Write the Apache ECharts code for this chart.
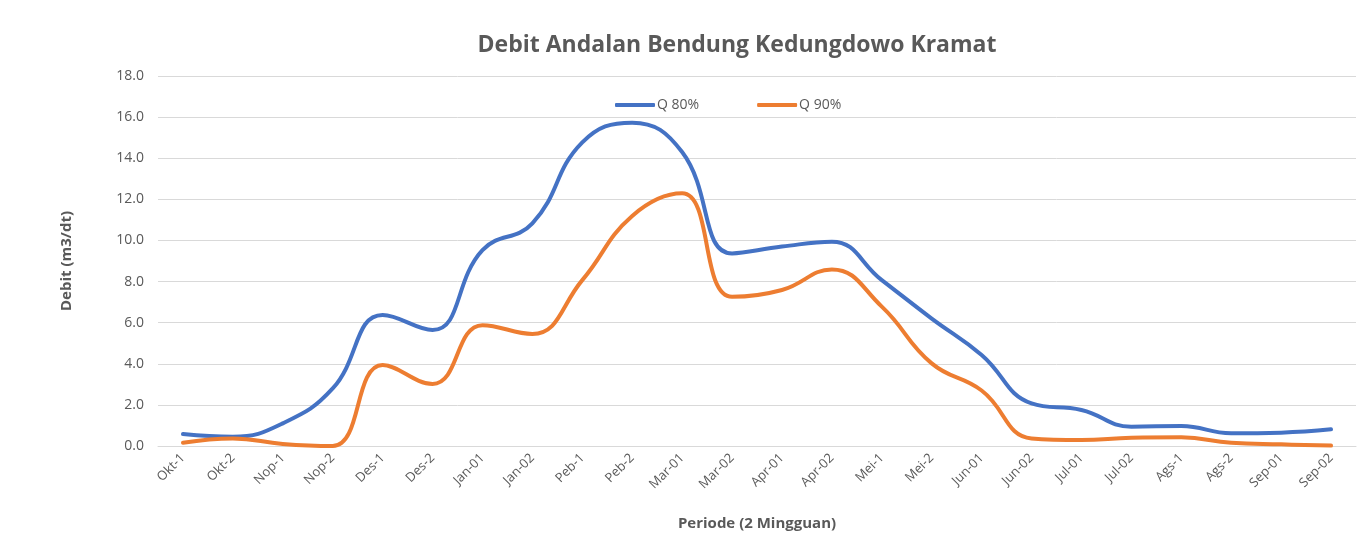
<!DOCTYPE html>
<html>
<head>
<meta charset="utf-8">
<script src="https://cdn.jsdelivr.net/npm/echarts@6/dist/echarts.min.js"></script>
<style>
  html, body { margin: 0; padding: 0; background: #fff; }
  #chart { width: 1357px; height: 548px; }
</style>
</head>
<body>
<div id="chart"></div>
<script>
// periode dua mingguan
const periods = ["Okt-1", "Okt-2", "Nop-1", "Nop-2", "Des-1", "Des-2", "Jan-01", "Jan-02",
  "Peb-1", "Peb-2", "Mar-01", "Mar-02", "Apr-01", "Apr-02", "Mei-1", "Mei-2",
  "Jun-01", "Jun-02", "Jul-01", "Jul-02", "Ags-1", "Ags-2", "Sep-01", "Sep-02"];

const q80 = [0.58, 0.45, 1.1, 2.8, 6.37, 5.64, 9.53, 10.83, 14.77, 15.73, 14.3, 9.37,
  9.7, 9.94, 8.07, 6.2, 4.43, 2.07, 1.75, 0.94, 0.97, 0.62, 0.65, 0.81];
const q90 = [0.16, 0.37, 0.1, 0.0, 3.94, 3.02, 5.88, 5.45, 8.07, 11.19, 12.29, 7.26,
  7.59, 8.59, 6.78, 4.02, 2.7, 0.37, 0.29, 0.4, 0.42, 0.16, 0.08, 0.02];

const font = "'Open Sans', 'Noto Sans', sans-serif";
const grey = "#595959";

const chart = echarts.init(document.getElementById("chart"), null, { renderer: "canvas" });

chart.setOption({
  animation: false,
  backgroundColor: "#fff",
  title: {
    text: "Debit Andalan Bendung Kedungdowo Kramat",
    left: 732, top: 29, textAlign: "center",
    textStyle: { fontFamily: font, fontSize: 23, fontWeight: "bold", color: grey }
  },
  legend: {
    top: 93, left: 610, itemGap: 58,
    itemWidth: 40, itemHeight: 4,
    icon: "roundRect",
    textStyle: { fontFamily: font, fontSize: 14, color: grey, padding: [0, 0, 0, -3] },
    data: ["Q 80%", "Q 90%"]
  },
  grid: { left: 158, right: 1, top: 76, bottom: 102, containLabel: false },
  xAxis: {
    type: "category",
    data: periods,
    boundaryGap: true,
    name: "Periode (2 Mingguan)",
    nameLocation: "middle",
    nameGap: 70,
    nameTextStyle: { fontFamily: font, fontSize: 15, fontWeight: "bold", color: grey },
    axisLine: { lineStyle: { color: "#d9d9d9", width: 1 } },
    axisTick: { show: false },
    axisLabel: { rotate: 45, fontFamily: font, fontSize: 13, color: grey, margin: 10, interval: 0 }
  },
  yAxis: {
    type: "value",
    min: 0, max: 18, interval: 2,
    name: "Debit (m3/dt)",
    nameLocation: "middle",
    nameGap: 84,
    nameTextStyle: { fontFamily: font, fontSize: 15, fontWeight: "bold", color: grey },
    axisLine: { show: false },
    axisTick: { show: false },
    axisLabel: { fontFamily: font, fontSize: 14, color: grey, margin: 14,
      formatter: v => v.toFixed(1) },
    splitLine: { lineStyle: { color: "#d9d9d9", width: 1 } }
  },
  series: [
    {
      name: "Q 80%", type: "line", data: q80, smooth: 0.45,
      showSymbol: false, symbol: "none",
      lineStyle: { color: "#4472C4", width: 4, cap: "round" },
      itemStyle: { color: "#4472C4" }
    },
    {
      name: "Q 90%", type: "line", data: q90, smooth: 0.45,
      showSymbol: false, symbol: "none",
      lineStyle: { color: "#ED7D31", width: 4, cap: "round" },
      itemStyle: { color: "#ED7D31" }
    }
  ]
});
</script>
</body>
</html>
